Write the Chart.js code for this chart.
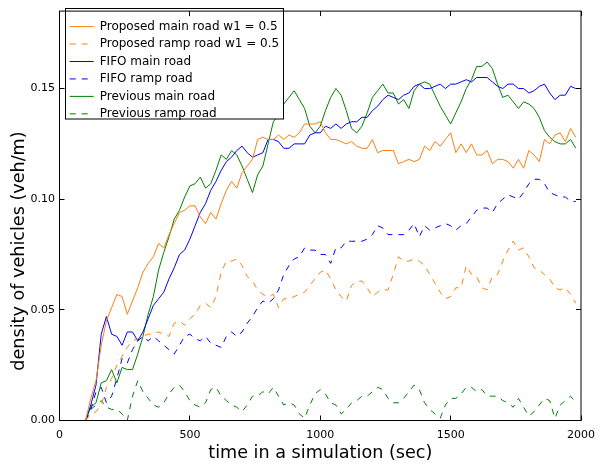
<!DOCTYPE html>
<html>
<head>
<meta charset="utf-8">
<script src="https://cdn.jsdelivr.net/npm/chart.js@4/dist/chart.umd.min.js"></script>
<style>
  html, body { margin: 0; padding: 0; background: #fff; }
  canvas { display: block; }
</style>
</head>
<body>
<canvas id="densityChart" width="603" height="464"></canvas>
<script>
  // sampling times (sec)
  const times = [
    100, 120, 140, 160, 180, 200, 220, 240, 260, 280, 300, 320, 340, 360, 380, 400, 420, 440, 460, 480,
    500, 520, 540, 560, 580, 600, 620, 640, 660, 680, 700, 720, 740, 760, 780, 800, 820, 840, 860, 880,
    900, 920, 940, 960, 980, 1000, 1020, 1040, 1060, 1080, 1100, 1120, 1140, 1160, 1180, 1200, 1220, 1240, 1260, 1280,
    1300, 1320, 1340, 1360, 1380, 1400, 1420, 1440, 1460, 1480, 1500, 1520, 1540, 1560, 1580, 1600, 1620, 1640, 1660, 1680,
    1700, 1720, 1740, 1760, 1780, 1800, 1820, 1840, 1860, 1880, 1900, 1920, 1940, 1960, 1980
  ];

  const proposedMain = [
    0.000, 0.010, 0.018, 0.034, 0.045, 0.051, 0.057, 0.056, 0.048, 0.054, 0.060, 0.067, 0.071, 0.074, 0.080, 0.078, 0.084, 0.089, 0.094, 0.095,
    0.097, 0.097, 0.092, 0.089, 0.094, 0.091, 0.098, 0.104, 0.108, 0.105, 0.112, 0.115, 0.118, 0.127, 0.128, 0.127, 0.127, 0.129, 0.127, 0.129,
    0.128, 0.130, 0.134, 0.134, 0.134, 0.135, 0.130, 0.127, 0.127, 0.126, 0.125, 0.126, 0.124, 0.123, 0.123, 0.127, 0.121, 0.122, 0.122, 0.122,
    0.116, 0.117, 0.118, 0.117, 0.118, 0.124, 0.122, 0.126, 0.124, 0.127, 0.130, 0.121, 0.125, 0.121, 0.125, 0.120, 0.120, 0.122, 0.116, 0.118,
    0.118, 0.117, 0.114, 0.118, 0.114, 0.122, 0.120, 0.117, 0.127, 0.125, 0.129, 0.130, 0.126, 0.132, 0.128
  ];
  const proposedRamp = [
    0.000, 0.003, 0.004, 0.007, 0.015, 0.019, 0.025, 0.029, 0.033, 0.036, 0.037, 0.038, 0.039, 0.039, 0.040, 0.039, 0.038, 0.044, 0.045, 0.043,
    0.046, 0.048, 0.052, 0.053, 0.051, 0.056, 0.067, 0.072, 0.072, 0.073, 0.070, 0.065, 0.063, 0.059, 0.057, 0.056, 0.057, 0.051, 0.055, 0.055,
    0.056, 0.057, 0.058, 0.061, 0.064, 0.067, 0.068, 0.064, 0.059, 0.056, 0.054, 0.061, 0.063, 0.063, 0.060, 0.056, 0.058, 0.059, 0.059, 0.066,
    0.074, 0.072, 0.072, 0.073, 0.072, 0.070, 0.066, 0.062, 0.058, 0.055, 0.056, 0.060, 0.060, 0.070, 0.066, 0.065, 0.060, 0.059, 0.065, 0.066,
    0.072, 0.077, 0.081, 0.077, 0.078, 0.074, 0.069, 0.068, 0.066, 0.064, 0.060, 0.059, 0.060, 0.057, 0.053
  ];
  const fifoMain = [
    0.000, 0.007, 0.016, 0.039, 0.047, 0.039, 0.038, 0.034, 0.040, 0.040, 0.036, 0.040, 0.046, 0.052, 0.055, 0.058, 0.064, 0.069, 0.075, 0.077,
    0.082, 0.088, 0.094, 0.098, 0.104, 0.108, 0.113, 0.117, 0.119, 0.122, 0.124, 0.121, 0.119, 0.120, 0.121, 0.127, 0.127, 0.126, 0.123, 0.123,
    0.125, 0.125, 0.125, 0.129, 0.130, 0.130, 0.133, 0.132, 0.134, 0.132, 0.134, 0.135, 0.135, 0.137, 0.137, 0.140, 0.142, 0.145, 0.147, 0.146,
    0.145, 0.147, 0.148, 0.151, 0.152, 0.150, 0.150, 0.151, 0.152, 0.150, 0.152, 0.152, 0.153, 0.154, 0.153, 0.155, 0.155, 0.155, 0.153, 0.151,
    0.150, 0.152, 0.152, 0.150, 0.150, 0.148, 0.149, 0.151, 0.152, 0.148, 0.145, 0.147, 0.147, 0.151, 0.150
  ];
  const fifoRamp = [
    0.000, 0.005, 0.013, 0.015, 0.008, 0.011, 0.019, 0.028, 0.026, 0.032, 0.036, 0.038, 0.036, 0.038, 0.036, 0.034, 0.032, 0.030, 0.034, 0.038,
    0.039, 0.037, 0.036, 0.038, 0.035, 0.034, 0.033, 0.038, 0.040, 0.038, 0.040, 0.044, 0.047, 0.051, 0.054, 0.053, 0.055, 0.059, 0.066, 0.070,
    0.073, 0.074, 0.078, 0.077, 0.077, 0.075, 0.075, 0.071, 0.078, 0.078, 0.081, 0.081, 0.081, 0.081, 0.082, 0.084, 0.088, 0.087, 0.084, 0.084,
    0.084, 0.084, 0.086, 0.089, 0.083, 0.088, 0.086, 0.087, 0.088, 0.089, 0.088, 0.086, 0.088, 0.089, 0.092, 0.095, 0.096, 0.096, 0.094, 0.098,
    0.100, 0.102, 0.101, 0.100, 0.103, 0.107, 0.109, 0.109, 0.107, 0.103, 0.102, 0.101, 0.101, 0.099, 0.099
  ];
  const previousMain = [
    0.000, 0.006, 0.008, 0.017, 0.018, 0.023, 0.017, 0.024, 0.023, 0.023, 0.030, 0.038, 0.048, 0.056, 0.068, 0.076, 0.083, 0.091, 0.095, 0.101,
    0.106, 0.107, 0.110, 0.105, 0.107, 0.113, 0.120, 0.118, 0.122, 0.120, 0.115, 0.109, 0.103, 0.111, 0.115, 0.125, 0.135, 0.138, 0.143, 0.146,
    0.149, 0.145, 0.141, 0.133, 0.130, 0.133, 0.140, 0.146, 0.150, 0.147, 0.140, 0.132, 0.130, 0.133, 0.139, 0.146, 0.149, 0.152, 0.148, 0.148,
    0.143, 0.145, 0.141, 0.149, 0.152, 0.153, 0.152, 0.147, 0.142, 0.138, 0.134, 0.139, 0.144, 0.150, 0.154, 0.160, 0.160, 0.162, 0.159, 0.152,
    0.146, 0.147, 0.144, 0.141, 0.144, 0.143, 0.141, 0.137, 0.131, 0.128, 0.126, 0.125, 0.125, 0.127, 0.123
  ];
  const previousRamp = [
    0.000, 0.005, 0.007, 0.009, 0.006, 0.005, 0.005, 0.003, 0.000, 0.011, 0.018, 0.013, 0.010, 0.007, 0.006, 0.008, 0.012, 0.015, 0.016, 0.013,
    0.009, 0.007, 0.006, 0.008, 0.014, 0.015, 0.011, 0.009, 0.007, 0.006, 0.004, 0.007, 0.011, 0.011, 0.013, 0.012, 0.015, 0.011, 0.007, 0.008,
    0.007, 0.003, 0.001, 0.007, 0.012, 0.014, 0.012, 0.008, 0.007, 0.003, 0.005, 0.008, 0.009, 0.011, 0.011, 0.013, 0.015, 0.014, 0.010, 0.008,
    0.008, 0.010, 0.013, 0.016, 0.014, 0.008, 0.005, 0.003, 0.001, 0.007, 0.010, 0.010, 0.012, 0.015, 0.015, 0.013, 0.014, 0.011, 0.011, 0.011,
    0.009, 0.008, 0.006, 0.010, 0.006, 0.002, 0.004, 0.007, 0.010, 0.009, 0.001, 0.007, 0.009, 0.011, 0.008
  ];

  const seriesLabels = [
    'Proposed main road w1 = 0.5',
    'Proposed ramp road w1 = 0.5',
    'FIFO main road',
    'FIFO ramp road',
    'Previous main road',
    'Previous ramp road'
  ];
  const xTicks = [0, 500, 1000, 1500, 2000];
  const yTicks = [0, 0.05, 0.10, 0.15];
  const xTitle = 'time in a simulation (sec)';
  const yTitle = 'density of vehicles (veh/m)';

  const ORANGE = '#ff7f0e', BLUE = '#0000ff', GREEN = '#008000';
  const FONT = 'DejaVu Sans';

  function toPoints(values) {
    return values.map((v, i) => ({ x: times[i], y: v }));
  }

  function makeSet(label, values, color, dashed) {
    return {
      label,
      data: toPoints(values),
      borderColor: color,
      backgroundColor: color,
      borderWidth: 1,
      borderDash: dashed ? [6, 6] : [],
      pointRadius: 0,
      tension: 0,
      fill: false
    };
  }

  // legend samples take colour and dash from the dataset line
  function legendLabels(chart) {
    const items = Chart.defaults.plugins.legend.labels.generateLabels(chart);
    items.forEach(it => {
      const ds = chart.data.datasets[it.datasetIndex];
      it.strokeStyle = ds.borderColor;
      it.fillStyle = ds.borderColor;
      it.lineDash = ds.borderDash;
      it.lineWidth = 1;
      it.pointStyle = 'line';
    });
    return items;
  }

  // box, inward ticks, axis titles, legend frame drawn on top of the lines
  const framePlugin = {
    id: 'frame',
    afterLayout(chart) {
      const a = chart.chartArea;
      chart.legend.left = a.left + 4.75;
      chart.legend.top = a.top + 4.05;
    },
    afterDatasetsDraw(chart) {
      const ctx = chart.ctx;
      const lg = chart.legend;
      const pad = lg.options.labels.padding;
      ctx.save();
      ctx.font = '12px "' + FONT + '"';
      const maxW = Math.max(...seriesLabels.map(t => ctx.measureText(t).width));
      const textX = lg.left + pad + 24 + 6;
      const x0 = 65.5, y0 = 8.5;
      const w = Math.round(textX + maxW + 4 - x0), h = 110.5;
      ctx.fillStyle = '#fff';
      ctx.fillRect(x0, y0, w, h);
      ctx.strokeStyle = '#000';
      ctx.lineWidth = 1;
      ctx.strokeRect(x0, y0, w, h);
      ctx.restore();
      lg.draw();
    },
    afterDraw(chart) {
      const ctx = chart.ctx;
      const a = chart.chartArea;
      const sx = chart.scales.x, sy = chart.scales.y;
      const crisp = p => Math.round(p - 0.5) + 0.5;
      ctx.save();
      ctx.strokeStyle = '#000';
      ctx.lineWidth = 1;
      ctx.strokeRect(a.left, a.top, a.right - a.left, a.bottom - a.top);
      ctx.beginPath();
      xTicks.forEach(v => {
        const px = crisp(sx.getPixelForValue(v));
        ctx.moveTo(px, a.bottom); ctx.lineTo(px, a.bottom - 5);
        ctx.moveTo(px, a.top); ctx.lineTo(px, a.top + 5);
      });
      yTicks.forEach(v => {
        const py = crisp(sy.getPixelForValue(v));
        ctx.moveTo(a.left, py); ctx.lineTo(a.left + 5, py);
        ctx.moveTo(a.right, py); ctx.lineTo(a.right - 5, py);
      });
      ctx.stroke();

      ctx.fillStyle = '#000';
      ctx.font = '17.6px "' + FONT + '"';
      ctx.textAlign = 'center';
      ctx.textBaseline = 'middle';
      ctx.fillText(xTitle, (a.left + a.right) / 2, 453);
      ctx.translate(19, 251);
      ctx.rotate(-Math.PI / 2);
      ctx.fillText(yTitle, 0, 0);
      ctx.restore();
    }
  };

  Chart.defaults.font.family = FONT;
  Chart.defaults.color = '#000';

  const chart = new Chart(document.getElementById('densityChart'), {
    type: 'line',
    data: {
      datasets: [
        makeSet(seriesLabels[0], proposedMain, ORANGE, false),
        makeSet(seriesLabels[1], proposedRamp, ORANGE, true),
        makeSet(seriesLabels[2], fifoMain, BLUE, false),
        makeSet(seriesLabels[3], fifoRamp, BLUE, true),
        makeSet(seriesLabels[4], previousMain, GREEN, false),
        makeSet(seriesLabels[5], previousRamp, GREEN, true)
      ]
    },
    options: {
      responsive: false,
      animation: false,
      devicePixelRatio: 1,
      layout: { padding: { left: 0, right: 16.5, top: 5.5, bottom: 0 } },
      plugins: {
        legend: {
          position: 'chartArea',
          align: 'start',
          labels: {
            usePointStyle: true,
            pointStyle: 'line',
            pointStyleWidth: 24,
            boxHeight: 12,
            padding: 5.45,
            color: '#000',
            font: { family: FONT, size: 12 },
            generateLabels: legendLabels
          }
        },
        tooltip: { enabled: false }
      },
      scales: {
        x: {
          type: 'linear',
          min: 0,
          max: 2000,
          afterFit: s => { s.height = 43.5; },
          grid: { display: false, drawTicks: false },
          border: { display: false },
          ticks: {
            stepSize: 500,
            padding: 8,
            maxRotation: 0,
            color: '#000',
            font: { family: FONT, size: 11 },
            callback: v => String(v)
          }
        },
        y: {
          min: 0,
          max: 0.185,
          afterFit: s => { s.width = 59.5; },
          grid: { display: false, drawTicks: false },
          border: { display: false },
          ticks: {
            stepSize: 0.05,
            includeBounds: false,
            padding: 4.5,
            color: '#000',
            font: { family: FONT, size: 11 },
            callback: v => v.toFixed(2)
          }
        }
      }
    },
    plugins: [framePlugin]
  });
</script>
</body>
</html>
